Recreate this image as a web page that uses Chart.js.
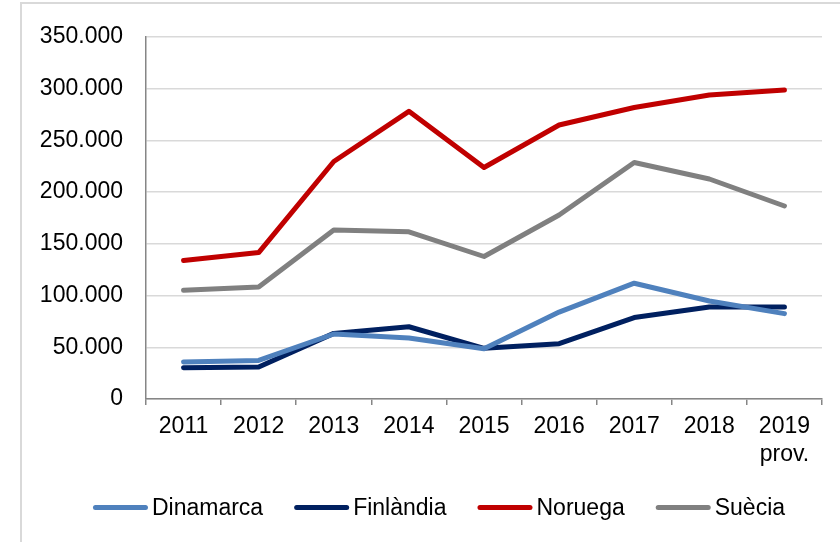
<!DOCTYPE html>
<html>
<head>
<meta charset="utf-8">
<script src="https://cdn.jsdelivr.net/npm/chart.js@4/dist/chart.umd.min.js"></script>
<style>
  html, body { margin: 0; padding: 0; background: #fff; }
  #wrap { position: relative; width: 840px; height: 542px; }
</style>
</head>
<body>
<div id="wrap"><canvas id="c" width="840" height="542"></canvas></div>
<script>
const categories = ['2011', '2012', '2013', '2014', '2015', '2016', '2017', '2018', ['2019', 'prov.']];
const dinamarca  = [35700, 37300, 62800, 59000, 48500, 84000, 111900, 94700, 82500];
const finlandia  = [30300, 30900, 63400, 69800, 49000, 53500, 78700, 88900, 88900];
const noruega    = [133900, 141500, 229500, 278000, 223700, 264800, 281700, 293800, 298600];
const suecia     = [105000, 108300, 163200, 161600, 137700, 177800, 228500, 212600, 186500];
const seriesNames = ['Dinamarca', 'Finlàndia', 'Noruega', 'Suècia'];
const yTicksMax = 350000;
const yTicksStep = 50000;

const FONT = '"Liberation Sans", Arial, sans-serif';
const FS = 23;

function fmt(v) {
  return String(v).replace(/\B(?=(\d{3})+(?!\d))/g, '.');
}

const framePlugin = {
  id: 'frame',
  beforeDraw(chart) {
    const ctx = chart.ctx;
    ctx.save();
    ctx.fillStyle = '#d9d9d9';
    ctx.fillRect(20, 2, 2, chart.height);
    ctx.fillRect(20, 2, chart.width - 20, 2);
    ctx.restore();
  }
};

const legendPlugin = {
  id: 'customLegend',
  afterDraw(chart) {
    const ctx = chart.ctx;
    const ds = chart.data.datasets;
    const lineLen = 55, gapText = 4, gapItem = 31;
    ctx.save();
    ctx.font = FS + 'px ' + FONT;
    const widths = ds.map(d => ctx.measureText(d.label).width);
    const total = widths.reduce((a, w) => a + lineLen + gapText + w, 0) + gapItem * (ds.length - 1);
    let x = 439 - total / 2;
    const y = 507.5;
    ds.forEach((d, i) => {
      ctx.strokeStyle = d.borderColor;
      ctx.lineWidth = 5;
      ctx.lineCap = 'round';
      ctx.beginPath();
      ctx.moveTo(x + 2.5, y);
      ctx.lineTo(x + lineLen - 2.5, y);
      ctx.stroke();
      ctx.fillStyle = '#000';
      ctx.textBaseline = 'middle';
      ctx.textAlign = 'left';
      ctx.fillText(d.label, x + lineLen + gapText, y + 1);
      x += lineLen + gapText + widths[i] + gapItem;
    });
    ctx.restore();
  }
};

function mk(label, data, color) {
  return {
    label, data,
    borderColor: color,
    backgroundColor: color,
    borderWidth: 5,
    borderCapStyle: 'round',
    borderJoinStyle: 'round',
    pointRadius: 0,
    pointHoverRadius: 0,
    tension: 0,
    fill: false
  };
}

new Chart(document.getElementById('c'), {
  type: 'line',
  data: {
    labels: categories,
    datasets: [
      mk(seriesNames[0], dinamarca, '#4F81BD'),
      mk(seriesNames[1], finlandia, '#002060'),
      mk(seriesNames[2], noruega, '#C00000'),
      mk(seriesNames[3], suecia, '#808080')
    ]
  },
  options: {
    responsive: false,
    animation: false,
    devicePixelRatio: 1,
    layout: { padding: { left: 0, right: 18, top: 33, bottom: 63 } },
    plugins: {
      legend: { display: false },
      tooltip: { enabled: false }
    },
    scales: {
      x: {
        type: 'category',
        offset: true,
        clip: false,
        afterFit: s => { s.height = 80; },
        grid: {
          offset: true,
          drawOnChartArea: false,
          drawTicks: true,
          tickLength: 6,
          color: '#868686',
          lineWidth: 1.5
        },
        border: { display: true, color: '#868686', width: 1.5 },
        ticks: {
          color: '#000',
          font: { family: FONT, size: FS, lineHeight: 1.25 },
          padding: 7,
          maxRotation: 0,
          autoSkip: false
        }
      },
      y: {
        min: 0,
        max: yTicksMax,
        afterFit: s => { s.width = 146; },
        grid: {
          color: '#d9d9d9',
          lineWidth: 1.5,
          drawTicks: false
        },
        border: { display: true, color: '#868686', width: 1.5 },
        ticks: {
          stepSize: yTicksStep,
          color: '#000',
          font: { family: FONT, size: FS },
          padding: 23,
          callback: v => fmt(v)
        }
      }
    }
  },
  plugins: [framePlugin, legendPlugin]
});
</script>
</body>
</html>
